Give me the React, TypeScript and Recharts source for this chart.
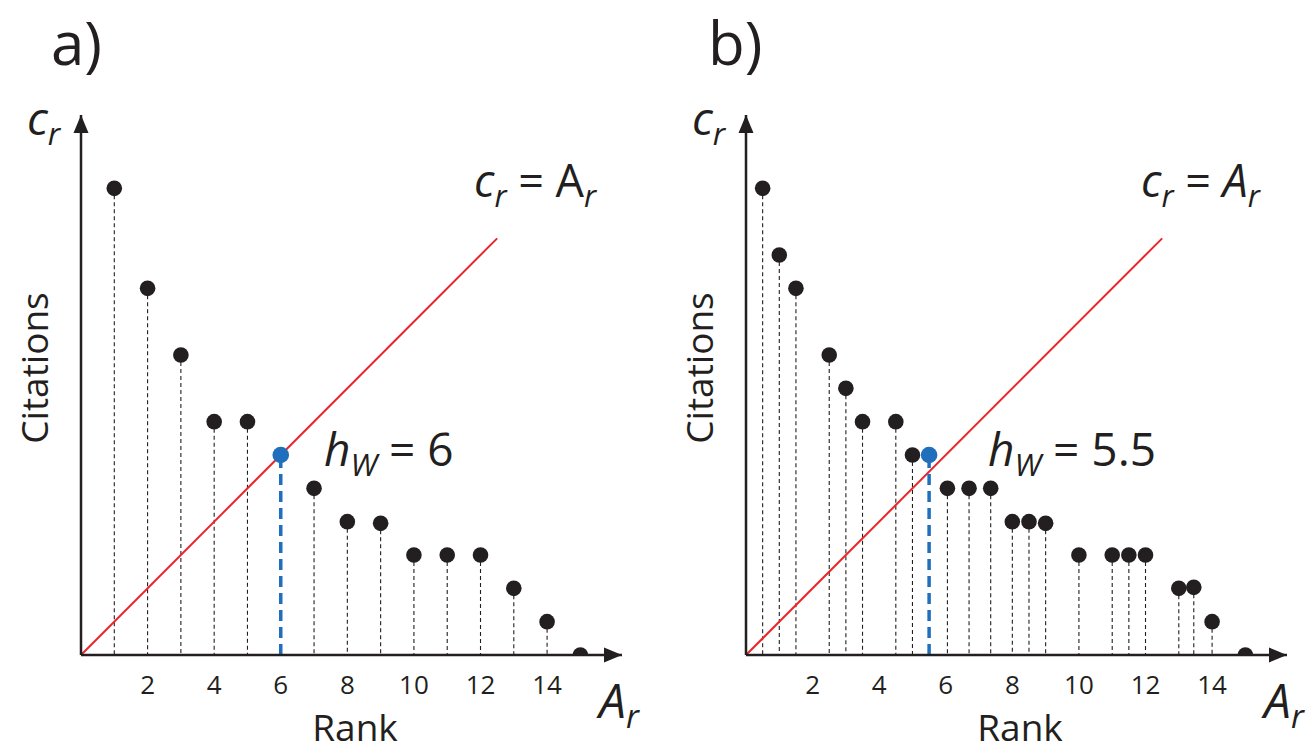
import { ComposedChart, XAxis, YAxis, Scatter, ReferenceLine, ReferenceDot } from 'recharts';

// panel a) - one paper per rank
const ranksA = [1, 2, 3, 4, 5, 7, 8, 9, 10, 11, 12, 13, 14, 15];
const citationsA = [14, 11, 9, 7, 7, 5, 4, 3.95, 3, 3, 3, 2, 1, 0];
const hIndexA = { rank: 6, citations: 6 };

// panel b) - weighted ranks
const ranksB = [0.5, 1, 1.5, 2.5, 3, 3.5, 4.5, 5, 6.05, 6.7, 7.35, 8, 8.5, 9, 10, 11, 11.5, 12, 13, 13.45, 14, 15];
const citationsB = [14, 12, 11, 9, 8, 7, 7, 6, 5, 5, 5, 4, 4, 3.95, 3, 3, 3, 3, 2, 2.03, 1, 0];
const hIndexB = { rank: 5.5, citations: 6 };

const rankTicks = [2, 4, 6, 8, 10, 12, 14];
const xMax = 16.25;
const yMax = 16.2;
const diagonalEnd = 12.5;

const INK = '#231f20';
const RED = '#e8262b';
const BLUE = '#1f6fbd';
const FONT = '"Open Sans", sans-serif';

const PLOT_W = 541;
const PLOT_H = 540;
const PLOT_LEFT = 81;
const PLOT_TOP = 115;

function BlackDot(props: any) {
  return <circle cx={props.cx} cy={props.cy} r={7.8} fill={INK} />;
}

function BlueDot(props: any) {
  return <circle cx={props.cx} cy={props.cy} r={8.3} fill={BLUE} />;
}

function ArrowRight(props: any) {
  const { cx, cy } = props;
  return <path d={`M${cx},${cy} L${cx - 18},${cy - 7.5} L${cx - 18},${cy + 7.5} Z`} fill={INK} />;
}

function ArrowUp(props: any) {
  const { cx, cy } = props;
  return <path d={`M${cx},${cy} L${cx - 7.5},${cy + 18} L${cx + 7.5},${cy + 18} Z`} fill={INK} />;
}

function RankTick(props: any) {
  const { x, y, payload } = props;
  return (
    <text x={x} y={y} dy={39} textAnchor="middle" fontSize={26} fill={INK} fontFamily={FONT}>
      {payload.value}
    </text>
  );
}

function Panel({
  ranks,
  citations,
  h,
  left,
  width,
}: {
  ranks: number[];
  citations: number[];
  h: { rank: number; citations: number };
  left: number;
  width: number;
}) {
  const points = ranks.map((rank, i) => ({ rank, citations: citations[i] }));
  const axisHeight = 40;

  return (
    <div style={{ position: 'absolute', left, top: 0 }}>
      <ComposedChart
        width={width}
        height={751}
        margin={{
          top: PLOT_TOP,
          left: PLOT_LEFT,
          right: width - PLOT_LEFT - PLOT_W,
          bottom: 751 - PLOT_TOP - PLOT_H - axisHeight,
        }}
      >
        <XAxis
          type="number"
          dataKey="rank"
          domain={[0, xMax]}
          ticks={rankTicks}
          allowDataOverflow
          axisLine={false}
          tickLine={false}
          tickSize={0}
          tickMargin={0}
          height={axisHeight}
          tick={<RankTick />}
        />
        <YAxis type="number" dataKey="citations" domain={[0, yMax]} allowDataOverflow hide width={0} />

        {/* dashed stems */}
        {points
          .filter((p) => p.citations > 0)
          .map((p, i) => (
            <ReferenceLine
              key={`stem-${i}`}
              segment={[
                { x: p.rank, y: p.citations },
                { x: p.rank, y: 0 },
              ]}
              stroke={INK}
              strokeWidth={1.1}
              strokeDasharray="4 3"
            />
          ))}

        {/* c_r = A_r */}
        <ReferenceLine
          segment={[
            { x: 0, y: 0 },
            { x: diagonalEnd, y: diagonalEnd },
          ]}
          stroke={RED}
          strokeWidth={2}
        />

        {/* h index marker */}
        <ReferenceLine
          segment={[
            { x: h.rank, y: 0 },
            { x: h.rank, y: h.citations },
          ]}
          stroke={BLUE}
          strokeWidth={3.5}
          strokeDasharray="11 6"
        />

        {/* axes with arrows */}
        <ReferenceLine
          segment={[
            { x: 0, y: 0 },
            { x: xMax, y: 0 },
          ]}
          stroke={INK}
          strokeWidth={2.5}
        />
        <ReferenceLine
          segment={[
            { x: 0, y: 0 },
            { x: 0, y: yMax },
          ]}
          stroke={INK}
          strokeWidth={2.5}
        />
        <ReferenceDot x={xMax} y={0} ifOverflow="visible" shape={ArrowRight} />
        <ReferenceDot x={0} y={yMax} ifOverflow="visible" shape={ArrowUp} />

        <Scatter data={points} shape={BlackDot} isAnimationActive={false} />
        <Scatter data={[h]} shape={BlueDot} isAnimationActive={false} />
      </ComposedChart>
    </div>
  );
}

function Sub({ children, italic = true }: { children: string; italic?: boolean }) {
  return (
    <tspan dy={10} fontSize="0.68em" fontStyle={italic ? 'italic' : 'normal'}>
      {children}
    </tspan>
  );
}

export default function App() {
  const shiftB = 665;
  return (
    <div style={{ position: 'absolute', left: 0, top: 0, width: 1316, height: 751, background: '#fff' }}>
      <Panel ranks={ranksA} citations={citationsA} h={hIndexA} left={0} width={660} />
      <Panel ranks={ranksB} citations={citationsB} h={hIndexB} left={shiftB} width={651} />

      <svg
        width={1316}
        height={751}
        style={{ position: 'absolute', left: 0, top: 0, pointerEvents: 'none' }}
        fontFamily={FONT}
        fill={INK}
      >
        {[0, shiftB].map((dx, k) => (
          <g key={k} transform={`translate(${dx},0)`}>
            <text x={k === 0 ? 51 : 43} y={65} fontSize={60}>
              {k === 0 ? 'a)' : 'b)'}
            </text>
            <text x={27} y={135} fontSize={46} fontStyle="italic">
              c<Sub>r</Sub>
            </text>
            <text
              x={48}
              y={368}
              fontSize={37}
              textAnchor="middle"
              transform={`rotate(-90 48 368)`}
            >
              Citations
            </text>
            <text x={355} y={741} fontSize={37} textAnchor="middle">
              Rank
            </text>
            <text x={599} y={718} fontSize={48} fontStyle="italic">
              A<Sub>r</Sub>
            </text>
          </g>
        ))}

        {/* panel a annotations */}
        <text x={474} y={197} fontSize={45}>
          <tspan fontStyle="italic">c</tspan>
          <Sub>r</Sub>
          <tspan dy={-10}> = A</tspan>
          <Sub>r</Sub>
        </text>
        <text x={324} y={466} fontSize={46}>
          <tspan fontStyle="italic">h</tspan>
          <Sub>W</Sub>
          <tspan dy={-10}> = 6</tspan>
        </text>

        {/* panel b annotations */}
        <text x={1141} y={197} fontSize={45}>
          <tspan fontStyle="italic">c</tspan>
          <Sub>r</Sub>
          <tspan dy={-10}> = </tspan>
          <tspan fontStyle="italic">A</tspan>
          <Sub>r</Sub>
        </text>
        <text x={988} y={466} fontSize={46}>
          <tspan fontStyle="italic">h</tspan>
          <Sub>W</Sub>
          <tspan dy={-10}> = 5.5</tspan>
        </text>
      </svg>
    </div>
  );
}
